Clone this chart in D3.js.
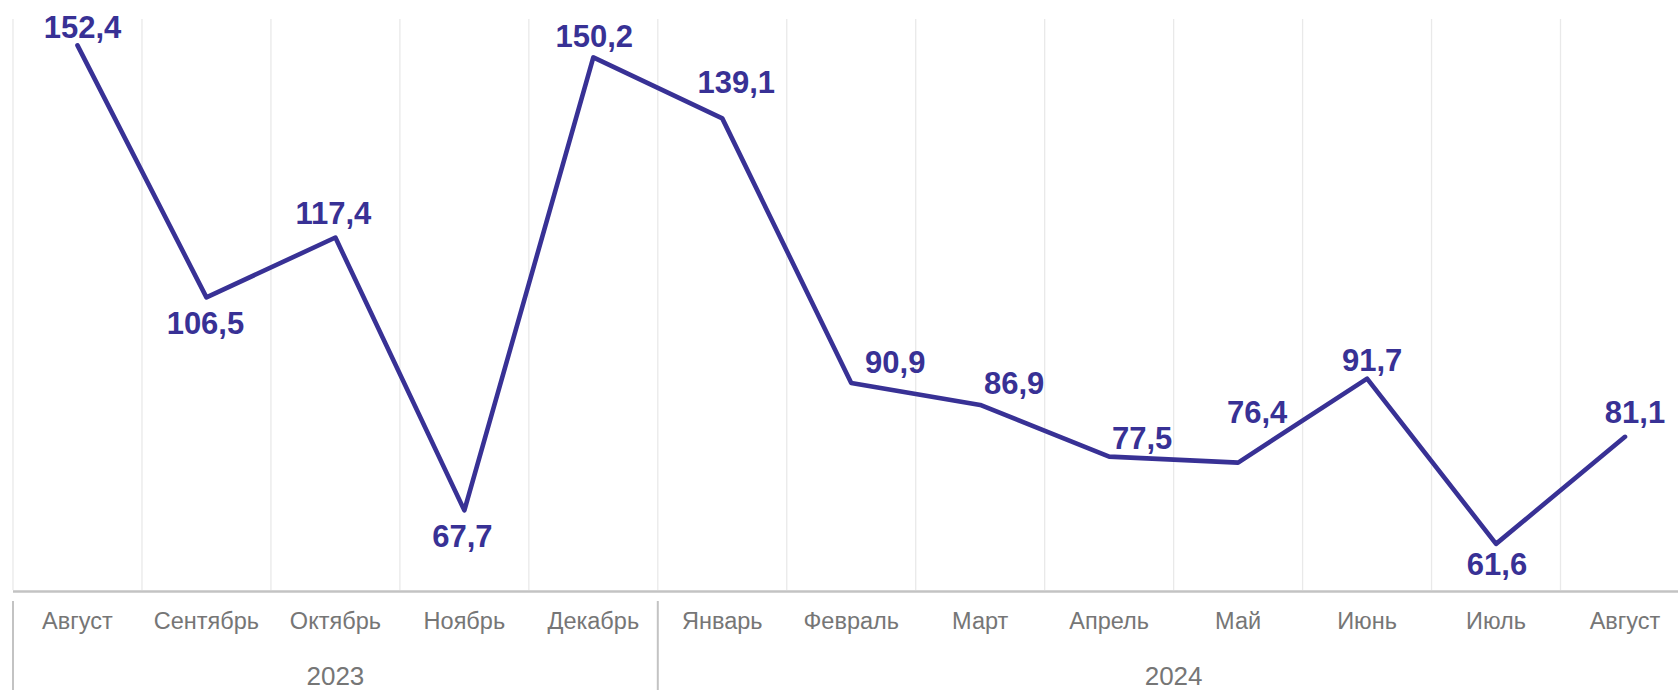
<!DOCTYPE html>
<html>
<head>
<meta charset="utf-8">
<script src="https://cdn.jsdelivr.net/npm/d3@7"></script>
<style>
  html, body { margin: 0; padding: 0; background: #fff; }
  svg { display: block; }
  text { font-family: "Liberation Sans", Arial, sans-serif; }
</style>
</head>
<body>
<svg id="chart" width="1678" height="690"></svg>
<script>
// ---- data ----
const months = ["Август", "Сентябрь", "Октябрь", "Ноябрь", "Декабрь", "Январь", "Февраль", "Март", "Апрель", "Май", "Июнь", "Июль", "Август"];
const values = [152.4, 106.5, 117.4, 67.7, 150.2, 139.1, 90.9, 86.9, 77.5, 76.4, 91.7, 61.6, 81.1];
const years = ["2023", "2024"];
const yearStart = [0, 5];   // first month index of each year
const yearEnd = [4, 12];    // last month index of each year
// label placement relative to point (dx, dy of text centre)
const labelOffsets = [[5,-18],[-1,26],[-2,-25],[-2,26],[1,-21],[14,-36],[44,-21],[34,-22],[33,-19],[19,-51],[5,-19],[1,20],[10,-25]];

const W = 1678, H = 690;
const left = 13, bandW = 128.96;
const axisY = 590, plotTop = 19;
const lineColor = "#383195";

const svg = d3.select("#chart");
const idx = d3.range(months.length);

const x = d3.scaleBand().domain(idx).range([left, left + bandW * months.length]).paddingInner(0).paddingOuter(0);
const y = d3.scaleLinear().domain([53.2, 157.2]).range([axisY, plotTop]);

// vertical gridlines at band boundaries
const bounds = idx.map(i => x(i)).concat([x(months.length - 1) + x.bandwidth()]);
svg.append("g").selectAll("line").data(bounds).join("line")
  .attr("x1", d => d).attr("x2", d => d)
  .attr("y1", plotTop).attr("y2", axisY)
  .attr("stroke", "#e9e9e9").attr("stroke-width", 1.3);

// axis line
svg.append("line")
  .attr("x1", left).attr("x2", W).attr("y1", axisY + 1.5).attr("y2", axisY + 1.5)
  .attr("stroke", "#c3c3c3").attr("stroke-width", 2.5);

// month labels via d3 axis
const xAxis = d3.axisBottom(x).tickSize(0).tickPadding(0).tickFormat(i => months[i]);
const gx = svg.append("g").attr("transform", `translate(0,${axisY})`).call(xAxis);
gx.select(".domain").remove();
gx.selectAll("text")
  .attr("y", 38.5).attr("dy", null)
  .attr("fill", "#767676")
  .style("font-size", "23.5px")
  .style("font-family", "'Liberation Sans', Arial, sans-serif");

// year separators and labels
const sepX = yearStart.map(i => x(i));
svg.append("g").selectAll("line").data(sepX).join("line")
  .attr("x1", d => d).attr("x2", d => d)
  .attr("y1", 601).attr("y2", H)
  .attr("stroke", "#c3c3c3").attr("stroke-width", 2);

svg.append("g").selectAll("text").data(years).join("text")
  .attr("x", (d, i) => (x(yearStart[i]) + x(yearEnd[i]) + x.bandwidth()) / 2)
  .attr("y", 685)
  .attr("text-anchor", "middle")
  .attr("fill", "#767676")
  .style("font-size", "26px")
  .text(d => d);

// line
const line = d3.line().x(i => x(i) + x.bandwidth() / 2).y(i => y(values[i]));
svg.append("path").datum(idx)
  .attr("d", line)
  .attr("fill", "none")
  .attr("stroke", lineColor)
  .attr("stroke-width", 4.6)
  .attr("stroke-linejoin", "round")
  .attr("stroke-linecap", "round");

// value labels
const fmt = v => d3.format(".1f")(v).replace(".", ",");
svg.append("g").selectAll("text").data(idx).join("text")
  .attr("x", i => x(i) + x.bandwidth() / 2 + labelOffsets[i][0])
  .attr("y", i => y(values[i]) + labelOffsets[i][1] + 11)
  .attr("text-anchor", "middle")
  .attr("fill", lineColor)
  .style("font-size", "31px")
  .style("font-weight", "bold")
  .text(i => fmt(values[i]));
</script>
</body>
</html>
